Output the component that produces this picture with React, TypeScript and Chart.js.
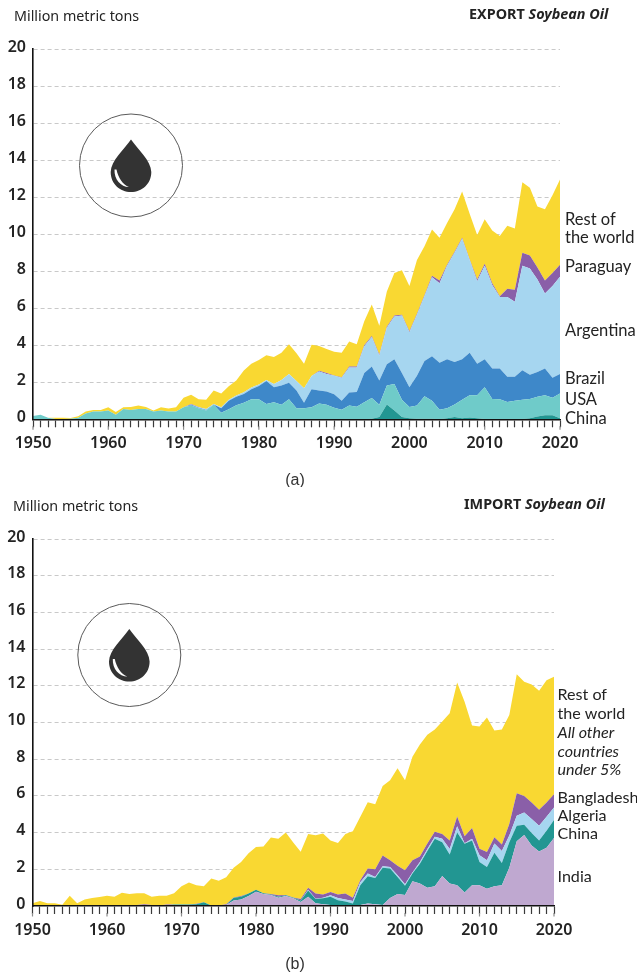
import React, { useEffect, useRef } from "react";
import { Chart, registerables } from "chart.js";

Chart.register(...registerables);

const years = Array.from({ length: 71 }, (_, i) => 1950 + i);
const yTicks = [0, 2, 4, 6, 8, 10, 12, 14, 16, 18, 20];

// Panel (a): EXPORT. Values are the upper edge of each band.
const expChinaTop = [
  0, 0, 0, 0, 0, 0, 0, 0, 0, 0,
  0, 0, 0, 0, 0, 0, 0, 0, 0, 0,
  0, 0, 0, 0, 0, 0, 0, 0, 0, 0,
  0, 0, 0, 0, 0, 0, 0, 0, 0, 0,
  0, 0, 0, 0, 0, 0.03, 0.12, 0.8, 0.47, 0.13,
  0.05, 0.03, 0.03, 0.03, 0, 0.05, 0.12, 0.05, 0.1, 0.05,
  0.02, 0.02, 0.02, 0.02, 0.02, 0.02, 0.05, 0.15, 0.22, 0.22,
  0.05,
];
const expUsaTop = [
  0.18, 0.25, 0.08, 0.02, 0.02, 0.03, 0.08, 0.32, 0.42, 0.42,
  0.47, 0.24, 0.55, 0.5, 0.55, 0.55, 0.42, 0.47, 0.42, 0.42,
  0.65, 0.75, 0.6, 0.47, 0.78, 0.36, 0.54, 0.76, 0.9, 1.08,
  1.08, 0.83, 0.92, 0.78, 1.08, 0.6, 0.6, 0.65, 0.86, 0.78,
  0.63, 0.52, 0.75, 0.68, 0.92, 1.15, 0.78, 1.82, 1.9, 1.05,
  0.67, 0.74, 1.25, 1.0, 0.52, 0.6, 0.8, 1.05, 1.3, 1.3,
  1.73, 1.1, 1.08, 0.93, 1.0, 1.05, 1.1, 1.22, 1.3, 1.17,
  1.4,
];
const expBrazilTop = [
  0.18, 0.25, 0.08, 0.02, 0.02, 0.03, 0.08, 0.32, 0.42, 0.42,
  0.47, 0.24, 0.55, 0.5, 0.55, 0.55, 0.42, 0.47, 0.42, 0.42,
  0.65, 0.78, 0.63, 0.5, 0.8, 0.6, 1.0, 1.22, 1.37, 1.62,
  1.8, 2.07, 1.73, 1.82, 1.98, 1.55, 0.9, 1.62, 1.55, 1.5,
  1.35, 1.0, 1.45, 1.48, 2.5, 2.85, 2.1, 2.97, 3.25, 2.5,
  1.73, 2.35, 3.15, 3.4, 3.05, 3.25, 3.1, 3.25, 3.6, 3.0,
  3.25, 2.75, 2.75, 2.3, 2.3, 2.65, 2.4, 2.55, 2.75, 2.25,
  2.45,
];
const expArgentinaTop = [
  0.18, 0.25, 0.08, 0.02, 0.02, 0.03, 0.08, 0.32, 0.42, 0.42,
  0.47, 0.24, 0.55, 0.5, 0.55, 0.55, 0.42, 0.47, 0.42, 0.42,
  0.65, 0.8, 0.65, 0.55, 0.82, 0.65, 1.05, 1.28, 1.46, 1.72,
  1.88, 2.12, 1.9, 2.12, 2.45, 2.07, 1.68, 2.34, 2.58, 2.45,
  2.35, 2.25, 2.8, 2.8, 3.95, 4.45, 3.45, 4.95, 5.55, 5.6,
  4.7, 5.65, 6.65, 7.67, 7.35, 8.3, 9.0, 9.75, 8.6, 7.45,
  8.3, 7.25, 6.6, 6.6, 6.35, 8.3, 8.15, 7.55, 6.8, 7.2,
  7.7,
];
const expParaguayTop = [
  0.18, 0.25, 0.08, 0.02, 0.02, 0.03, 0.08, 0.32, 0.42, 0.42,
  0.47, 0.24, 0.55, 0.5, 0.55, 0.55, 0.42, 0.47, 0.42, 0.42,
  0.65, 0.83, 0.67, 0.55, 0.82, 0.65, 1.05, 1.28, 1.46, 1.72,
  1.88, 2.12, 1.9, 2.12, 2.45, 2.07, 1.68, 2.34, 2.62, 2.5,
  2.37, 2.27, 2.85, 2.85, 4.0, 4.5, 3.5, 5.0, 5.6, 5.65,
  4.75, 5.7, 6.7, 7.75, 7.5, 8.35, 9.05, 9.8, 8.65, 7.55,
  8.4, 7.35, 6.65, 7.05, 7.0, 9.0, 8.85, 8.2, 7.5, 7.9,
  8.35,
];
const expTotal = [
  0.18, 0.25, 0.08, 0.09, 0.09, 0.07, 0.16, 0.42, 0.5, 0.5,
  0.65, 0.4, 0.65, 0.66, 0.74, 0.66, 0.48, 0.65, 0.58, 0.65,
  1.17, 1.32, 1.08, 1.06, 1.55, 1.4, 1.78, 2.1, 2.63, 3.0,
  3.2, 3.46, 3.37, 3.6, 4.05, 3.57, 3.0, 4.03, 3.96, 3.8,
  3.65, 3.6, 4.2, 4.05, 5.3, 6.2, 5.05, 6.9, 7.9, 8.05,
  7.2, 8.6, 9.35, 10.25, 9.8, 10.6, 11.35, 12.3, 11.1, 9.95,
  10.8, 10.2, 9.9, 10.45, 10.3, 12.8, 12.5, 11.5, 11.35, 12.1,
  12.95,
];

// Panel (b): IMPORT. Values are the upper edge of each band.
const impIndiaTop = [
  0, 0, 0, 0, 0, 0, 0, 0, 0, 0,
  0, 0, 0, 0, 0, 0, 0, 0, 0, 0,
  0, 0, 0, 0, 0, 0, 0.05, 0.3, 0.35, 0.55,
  0.78, 0.65, 0.6, 0.45, 0.55, 0.42, 0.22, 0.5, 0.15, 0.1,
  0.05, 0.03, 0.03, 0.03, 0.05, 0.13, 0.09, 0.05, 0.43, 0.65,
  0.6, 1.35, 1.23, 1.0, 1.08, 1.64, 1.23, 1.13, 0.74, 1.13,
  1.13, 0.94, 1.08, 1.13, 2.09, 3.53, 3.87, 3.3, 2.97, 3.17,
  3.71,
];
const impChinaTop = [
  0, 0, 0, 0, 0, 0, 0, 0, 0, 0,
  0, 0.05, 0.05, 0.05, 0.05, 0.02, 0, 0, 0.03, 0.08,
  0.08, 0.08, 0.1, 0.2, 0.03, 0.03, 0.05, 0.45, 0.5, 0.68,
  0.88, 0.7, 0.62, 0.5, 0.58, 0.45, 0.3, 0.85, 0.38, 0.42,
  0.5, 0.32, 0.25, 0.13, 1.13, 1.62, 1.53, 2.09, 2.05, 1.58,
  1.1, 1.77, 2.3, 3.0, 3.66, 3.48, 2.81, 4.0, 3.39, 3.57,
  2.4, 2.13, 2.9, 2.34, 3.48, 4.38, 4.43, 3.98, 3.57, 4.1,
  4.68,
];
const impAlgeriaTop = [
  0, 0, 0, 0, 0, 0, 0, 0, 0, 0,
  0, 0.05, 0.05, 0.05, 0.05, 0.02, 0, 0, 0.03, 0.08,
  0.08, 0.08, 0.1, 0.2, 0.03, 0.03, 0.05, 0.45, 0.5, 0.68,
  0.88, 0.7, 0.62, 0.5, 0.58, 0.45, 0.3, 0.88, 0.4, 0.45,
  0.58, 0.43, 0.36, 0.27, 1.3, 1.77, 1.58, 2.16, 2.13, 1.68,
  1.19, 1.82, 2.4, 3.1, 3.78, 3.66, 3.1, 4.34, 3.42, 3.66,
  2.76, 2.5, 3.4, 3.0, 3.84, 4.92, 5.1, 4.74, 4.38, 4.86,
  5.37,
];
const impBangladeshTop = [
  0, 0, 0, 0, 0, 0, 0, 0, 0, 0,
  0, 0.05, 0.05, 0.05, 0.05, 0.1, 0.05, 0.03, 0.08, 0.08,
  0.08, 0.08, 0.12, 0.2, 0.03, 0.03, 0.1, 0.47, 0.55, 0.68,
  0.88, 0.7, 0.65, 0.58, 0.6, 0.47, 0.38, 1.0, 0.68, 0.63,
  0.76, 0.63, 0.68, 0.45, 1.4, 2.05, 2.0, 2.75, 2.49, 2.2,
  1.95, 2.49, 2.7, 3.4, 4.05, 3.93, 3.57, 4.88, 3.8, 4.25,
  3.12, 2.94, 3.75, 3.35, 4.47, 6.14, 6.0, 5.64, 5.24, 5.64,
  6.09,
];
const impTotal = [
  0.15, 0.27, 0.15, 0.15, 0.07, 0.56, 0.15, 0.36, 0.43, 0.49,
  0.56, 0.5, 0.72, 0.65, 0.7, 0.7, 0.5, 0.56, 0.56, 0.7,
  1.08, 1.28, 1.13, 1.08, 1.5, 1.37, 1.57, 2.09, 2.4, 2.88,
  3.22, 3.24, 3.73, 3.66, 4.0, 3.46, 2.95, 3.93, 3.85, 3.95,
  3.57, 3.44, 3.93, 4.07, 4.86, 5.66, 5.55, 6.54, 6.85, 7.51,
  6.85, 8.13, 8.8, 9.33, 9.62, 10.05, 10.5, 12.18, 11.13, 9.84,
  9.78, 10.27, 9.57, 9.62, 10.41, 12.63, 12.22, 12.07, 11.73, 12.3,
  12.49,
];

const expBands = [
  { name: "China", top: expChinaTop, color: "#229692" },
  { name: "USA", top: expUsaTop, color: "#6fcbc9" },
  { name: "Brazil", top: expBrazilTop, color: "#3e88c9" },
  { name: "Argentina", top: expArgentinaTop, color: "#a6d6f0" },
  { name: "Paraguay", top: expParaguayTop, color: "#8a5fa8" },
  { name: "Rest of the world", top: expTotal, color: "#f9d832" },
];
const impBands = [
  { name: "India", top: impIndiaTop, color: "#bfa8d0" },
  { name: "China", top: impChinaTop, color: "#229692" },
  { name: "Algeria", top: impAlgeriaTop, color: "#a6d6f0" },
  { name: "Bangladesh", top: impBangladeshTop, color: "#8a5fa8" },
  { name: "Rest of the world", top: impTotal, color: "#f9d832" },
];

const expLabels = [
  { text: "Rest of", y: 219 },
  { text: "the world", y: 237 },
  { text: "Paraguay", y: 266 },
  { text: "Argentina", y: 330 },
  { text: "Brazil", y: 378 },
  { text: "USA", y: 399 },
  { text: "China", y: 418 },
];
const impLabels = [
  { text: "Rest of", y: 207 },
  { text: "the world", y: 226 },
  { text: "All other", y: 245, italic: true },
  { text: "countries", y: 264, italic: true },
  { text: "under 5%", y: 282, italic: true },
  { text: "Bangladesh", y: 310 },
  { text: "Algeria", y: 328 },
  { text: "China", y: 346 },
  { text: "India", y: 389 },
];

const FONT = '"Noto Sans"';
const LABEL_FONT = "Lato";
const TEXT = "#232323";

type Panel = {
  bands: { name: string; top: number[]; color: string }[];
  labels: { text: string; y: number; italic?: boolean }[];
  height: number;
  left: number;
  right: number;
  top: number;
  bottom: number;
  unitTitleX: number;
  unitTitleY: number;
  kind: string;
  kindX: number;
  kindY: number;
  labelX: number;
  labelSize: number;
  caption: string;
  captionY: number;
  iconX: number;
  iconY: number;
};

const panels: Panel[] = [
  {
    bands: expBands, labels: expLabels, height: 487,
    left: 33, right: 560, top: 49, bottom: 419.3,
    unitTitleX: 14, unitTitleY: 16, kind: "EXPORT", kindX: 469, kindY: 15,
    labelX: 565, labelSize: 16.5, caption: "(a)", captionY: 480, iconX: 131, iconY: 165.5,
  },
  {
    bands: impBands, labels: impLabels, height: 488,
    left: 32.5, right: 554, top: 52, bottom: 419,
    unitTitleX: 13, unitTitleY: 19, kind: "IMPORT", kindX: 464, kindY: 18,
    labelX: 557.5, labelSize: 16.1, caption: "(b)", captionY: 477, iconX: 129.3, iconY: 168,
  },
];

function drawDrop(ctx: CanvasRenderingContext2D, cx: number, cy: number) {
  ctx.save();
  ctx.strokeStyle = "#5a5a5a";
  ctx.lineWidth = 1;
  ctx.beginPath();
  ctx.arc(cx, cy, 51.5, 0, Math.PI * 2);
  ctx.stroke();
  const t = cy - 26;
  const b = cy + 26.5;
  ctx.fillStyle = "#333333";
  ctx.beginPath();
  ctx.moveTo(cx, t);
  ctx.bezierCurveTo(cx + 7, t + 10, cx + 20, t + 21, cx + 20.3, t + 32.5);
  ctx.bezierCurveTo(cx + 20.3, b - 8, cx + 11, b, cx, b);
  ctx.bezierCurveTo(cx - 11, b, cx - 20.3, b - 8, cx - 20.3, t + 32.5);
  ctx.bezierCurveTo(cx - 20, t + 21, cx - 7, t + 10, cx, t);
  ctx.closePath();
  ctx.fill();
  ctx.fillStyle = "#ffffff";
  ctx.beginPath();
  ctx.moveTo(cx - 16.5, t + 30);
  ctx.bezierCurveTo(cx - 17, t + 40, cx - 10, b - 5, cx - 2, b - 5);
  ctx.bezierCurveTo(cx - 8, b - 7, cx - 13, t + 38, cx - 14.5, t + 30);
  ctx.closePath();
  ctx.fill();
  ctx.restore();
}

function buildChart(canvas: HTMLCanvasElement, p: Panel) {
  const datasets = p.bands.map((band, i) => ({
    label: band.name,
    data: band.top.map((v, j) => ({
      x: years[j],
      y: Math.max(0, v - (i > 0 ? p.bands[i - 1].top[j] : 0)),
    })),
    backgroundColor: band.color,
    borderWidth: 0,
    pointRadius: 0,
    tension: 0,
    fill: i === 0 ? "origin" : "-1",
  }));

  const decor = {
    id: "decor",
    afterDraw(chart: any) {
      const ctx: CanvasRenderingContext2D = chart.ctx;
      const xs = chart.scales.x;
      const yb = chart.chartArea.bottom;
      ctx.save();
      ctx.strokeStyle = "#8a8a8a";
      ctx.lineWidth = 1.2;
      for (const year of years.filter((v) => v % 10 === 0)) {
        const px = xs.getPixelForValue(year);
        ctx.beginPath();
        ctx.moveTo(px, yb + 7);
        ctx.lineTo(px, yb + 10.5);
        ctx.stroke();
      }
      ctx.fillStyle = TEXT;
      ctx.textBaseline = "middle";
      ctx.textAlign = "left";
      ctx.font = `14.3px ${FONT}`;
      ctx.fillText("Million metric tons", p.unitTitleX, p.unitTitleY + 1);
      ctx.font = `bold 14.4px ${FONT}`;
      ctx.fillText(p.kind, p.kindX, p.kindY);
      const w = ctx.measureText(p.kind + " ").width;
      ctx.font = `italic bold 14.4px ${FONT}`;
      ctx.fillText("Soybean Oil", p.kindX + w, p.kindY);
      for (const l of p.labels) {
        ctx.font = `${l.italic ? "italic " : ""}${p.labelSize}px ${LABEL_FONT}`;
        ctx.fillText(l.text, p.labelX, l.y + 1);
      }
      ctx.textAlign = "center";
      ctx.font = `16px "Liberation Sans"`;
      ctx.fillStyle = "#333333";
      ctx.fillText(p.caption, 295, p.captionY + 1);
      ctx.restore();
      drawDrop(ctx, p.iconX, p.iconY);
    },
  };

  return new Chart(canvas, {
    type: "line",
    data: { datasets: datasets as any },
    plugins: [decor],
    options: {
      animation: false,
      responsive: false,
      devicePixelRatio: 1,
      layout: {
        padding: { left: 0, right: 637 - p.right, top: p.top, bottom: 0 },
      },
      plugins: { legend: { display: false }, tooltip: { enabled: false } },
      scales: {
        x: {
          type: "linear",
          min: 1950,
          max: 2020,
          afterFit(scale: any) {
            scale.height = p.height - p.bottom;
          },
          border: { color: "#111111", width: 1.6, z: 2 },
          grid: {
            drawOnChartArea: false,
            drawTicks: true,
            tickLength: 8,
            tickColor: "#3a3a3a",
            tickWidth: 1.2,
          },
          ticks: {
            stepSize: 1,
            autoSkip: false,
            maxRotation: 0,
            minRotation: 0,
            padding: 7,
            color: TEXT,
            font: { family: FONT, size: 16, weight: 600 },
            callback: (v: any) => (Number(v) % 10 === 0 ? String(v) : ""),
          },
          afterBuildTicks(scale: any) {
            scale.ticks = years.map((value) => ({ value }));
          },
        },
        y: {
          stacked: true,
          min: 0,
          max: 20,
          afterFit(scale: any) {
            scale.width = p.left;
          },
          afterBuildTicks(scale: any) {
            scale.ticks = yTicks.map((value) => ({ value }));
          },
          border: { color: "#111111", width: 1.6, z: 2, dash: [4, 3] },
          grid: {
            drawTicks: false,
            color: (c: any) => (c.tick && c.tick.value === 0 ? "rgba(0,0,0,0)" : "#c9c9c9"),
            lineWidth: 1,
          },
          ticks: {
            padding: 7,
            labelOffset: -2,
            color: TEXT,
            font: { family: FONT, size: 16, weight: 600 },
          },
        },
      },
    } as any,
  });
}

function PanelChart({ p, top }: { p: Panel; top: number }) {
  const ref = useRef<HTMLCanvasElement>(null);
  useEffect(() => {
    const chart = buildChart(ref.current!, p);
    return () => chart.destroy();
  }, [p]);
  return (
    <canvas
      ref={ref}
      width={637}
      height={p.height}
      style={{ position: "absolute", left: 0, top, display: "block" }}
    />
  );
}

export default function App() {
  return (
    <div style={{ position: "absolute", left: 0, top: 0, width: 637, height: 975 }}>
      <PanelChart p={panels[0]} top={0} />
      <PanelChart p={panels[1]} top={487} />
    </div>
  );
}
